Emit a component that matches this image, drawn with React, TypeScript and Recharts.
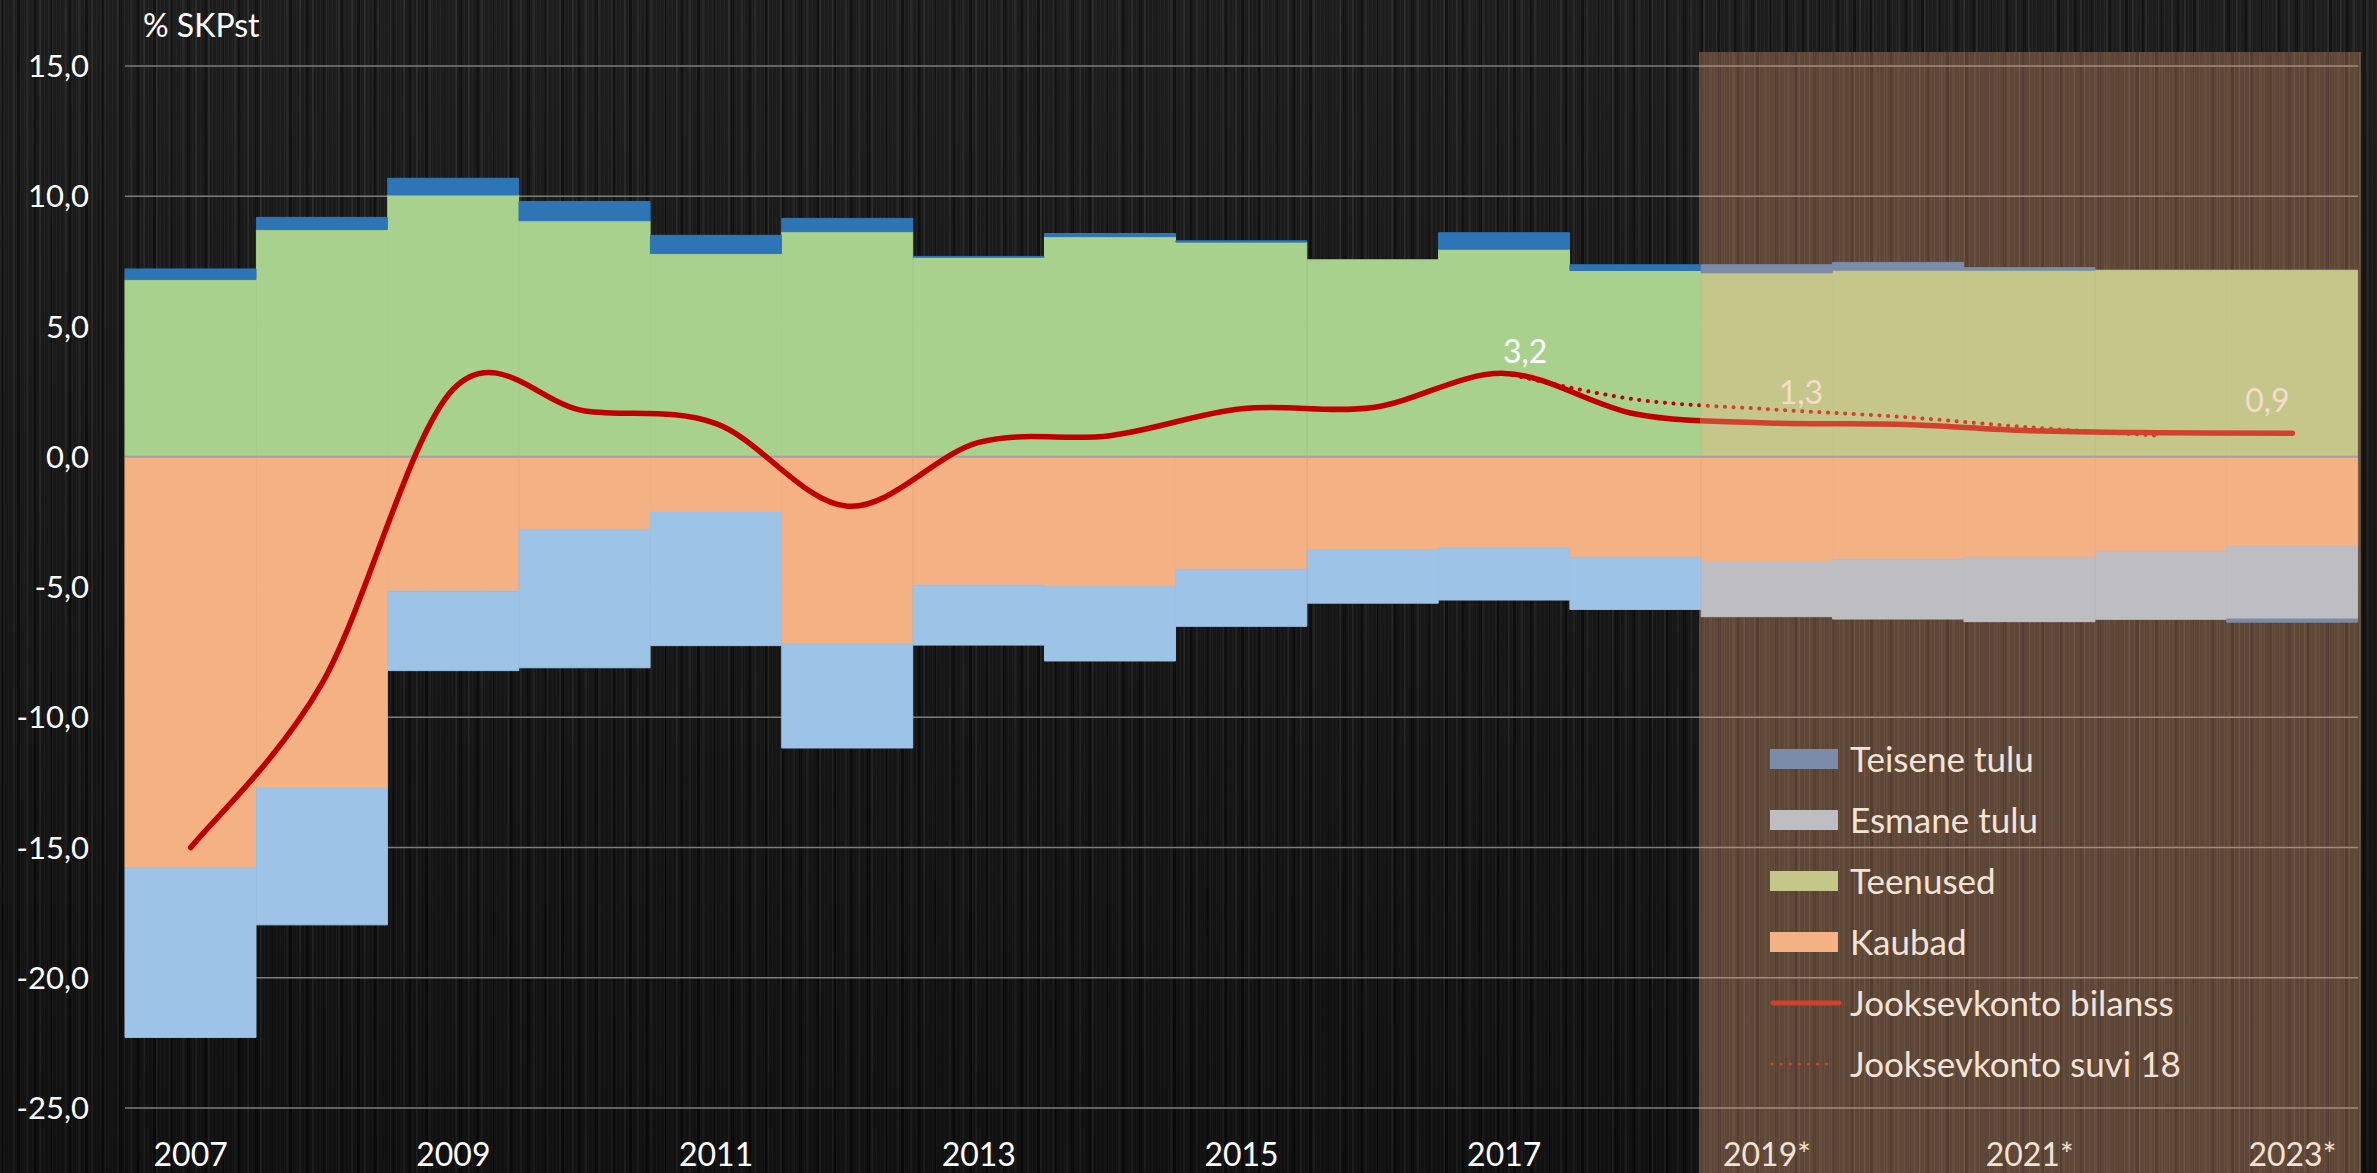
import React from 'react'
import { ComposedChart, Bar, Line, XAxis, YAxis, CartesianGrid, ReferenceLine, Legend, Cell, LabelList } from 'recharts'

const W = 2377
const H = 1173

const years = ['2007', '2008', '2009', '2010', '2011', '2012', '2013', '2014', '2015', '2016', '2017', '2018', '2019*', '2020*', '2021*', '2022*', '2023*']
const teisene = [0.41, 0.47, 0.64, 0.74, 0.70, 0.51, 0.03, 0.12, 0.05, 0, 0.63, 0.22, 0.31, 0.30, 0.10, 0, -0.12]
const esmane = [-6.51, -5.24, -3.05, -5.31, -5.11, -3.98, -2.30, -2.85, -2.19, -2.06, -2.00, -2.00, -2.12, -2.30, -2.47, -2.61, -2.80]
const teenused = [6.80, 8.72, 10.05, 9.06, 7.80, 8.64, 7.66, 8.45, 8.24, 7.56, 7.97, 7.15, 7.06, 7.16, 7.16, 7.16, 7.16]
const kaubad = [-15.78, -12.73, -5.16, -2.79, -2.14, -7.20, -4.93, -4.99, -4.32, -3.56, -3.50, -3.86, -4.02, -3.93, -3.86, -3.63, -3.43]
const bilanss = [-15.0, -8.7, 2.6, 1.76, 1.27, -1.9, 0.55, 0.81, 1.84, 1.89, 3.2, 1.64, 1.3, 1.25, 1.0, 0.92, 0.9]
const suvi18 = [null, null, null, null, null, null, null, null, null, null, 3.2, 2.2, 1.83, 1.54, 1.13, 0.8, null]
const yTicks = [-25, -20, -15, -10, -5, 0, 5, 10, 15]

// which points of the balance line carry a value label, and where it sits
const labelPos: Record<number, { dx: number; dy: number; color: string }> = {
  10: { dx: 21, dy: -10, color: '#ffffff' },
  12: { dx: 34, dy: -19, color: '#f5dccb' },
  16: { dx: -25, dy: -21, color: '#f5dccb' },
}

const hist = { teisene: '#2e75b6', esmane: '#9dc3e6', teenused: '#a9d18e', kaubad: '#f4b183' }
const fore = { teisene: '#7a8ca8', esmane: '#bebdc2', teenused: '#c5c68a', kaubad: '#f4b183' }

const legendItems = [
  { name: 'Teisene tulu', color: fore.teisene, kind: 'box' },
  { name: 'Esmane tulu', color: fore.esmane, kind: 'box' },
  { name: 'Teenused', color: fore.teenused, kind: 'box' },
  { name: 'Kaubad', color: fore.kaubad, kind: 'box' },
  { name: 'Jooksevkonto bilanss', color: '#d2412e', kind: 'line' },
  { name: 'Jooksevkonto suvi 18', color: '#d2412e', kind: 'dots' },
]

const rows = years.map((y, i) => ({
  year: y,
  kaubad: kaubad[i],
  teenused: teenused[i],
  esmane: esmane[i],
  teisene: teisene[i],
  bilanss: bilanss[i],
  suvi18: suvi18[i],
}))

const isFore = (y: string) => y.includes('*')
const fmt = (v: number) => v.toFixed(1).replace('.', ',')

// Excel style smoothed line (bezier through the points)
function excelSmooth(context: any) {
  let pts: number[][] = []
  return {
    areaStart() {},
    areaEnd() {},
    lineStart() { pts = [] },
    point(x: number, y: number) { pts.push([+x, +y]) },
    lineEnd() {
      const n = pts.length
      if (!n) return
      context.moveTo(pts[0][0], pts[0][1])
      for (let i = 0; i < n - 1; i++) {
        const p0 = pts[Math.max(i - 1, 0)]
        const p1 = pts[i]
        const p2 = pts[i + 1]
        const p3 = pts[Math.min(i + 2, n - 1)]
        context.bezierCurveTo(
          p1[0] + (p2[0] - p0[0]) / 6, p1[1] + (p2[1] - p0[1]) / 6,
          p2[0] - (p3[0] - p1[0]) / 6, p2[1] - (p3[1] - p1[1]) / 6,
          p2[0], p2[1]
        )
      }
    },
  }
}

const DARK = [
  'linear-gradient(180deg, rgba(255,255,255,0.025), rgba(0,0,0,0.3))',
  'repeating-linear-gradient(90deg, rgba(255,255,255,0.03) 0px, rgba(255,255,255,0.03) 1px, rgba(0,0,0,0) 1px, rgba(0,0,0,0) 4px)',
  'repeating-linear-gradient(90deg, rgba(255,255,255,0.05) 0px, rgba(255,255,255,0.05) 2px, rgba(0,0,0,0) 2px, rgba(0,0,0,0) 13px)',
  'repeating-linear-gradient(90deg, rgba(0,0,0,0.45) 0px, rgba(0,0,0,0.45) 3px, rgba(0,0,0,0) 3px, rgba(0,0,0,0) 17px)',
  '#181818',
].join(', ')

const BROWN = [
  'repeating-linear-gradient(90deg, rgba(255,230,210,0.05) 0px, rgba(255,230,210,0.05) 1px, rgba(0,0,0,0) 1px, rgba(0,0,0,0) 5px)',
  'repeating-linear-gradient(90deg, rgba(255,230,210,0.04) 0px, rgba(255,230,210,0.04) 2px, rgba(0,0,0,0) 2px, rgba(0,0,0,0) 11px)',
  'repeating-linear-gradient(90deg, rgba(0,0,0,0.12) 0px, rgba(0,0,0,0.12) 3px, rgba(0,0,0,0) 3px, rgba(0,0,0,0) 19px)',
  '#5f4738',
].join(', ')

const YearTick = (p: any) => {
  const v = p.payload.value as string
  return (
    <text x={p.x} y={p.y} dy={58} textAnchor="middle" fill={isFore(v) ? '#f4e2d4' : '#ffffff'} fontSize={32} fontFamily="Lato">
      {v}
    </text>
  )
}

const LegendBox = () => (
  <div style={{ fontFamily: 'Lato', color: '#f3e3d6', fontSize: 35 }}>
    {legendItems.map((it) => (
      <div key={it.name} style={{ height: 61, display: 'flex', alignItems: 'center' }}>
        <svg width={76} height={24} style={{ marginRight: 4 }}>
          {it.kind === 'box' && <rect x={0} y={2} width={68} height={20} fill={it.color} />}
          {it.kind === 'line' && <line x1={3} y1={12} x2={69} y2={12} stroke={it.color} strokeWidth={5} strokeLinecap="round" />}
          {it.kind === 'dots' && <line x1={2} y1={12} x2={64} y2={12} stroke={it.color} strokeWidth={3} strokeLinecap="round" strokeDasharray="0.1 9" />}
        </svg>
        <span style={{ lineHeight: 1 }}>{it.name}</span>
      </div>
    ))}
  </div>
)

const barCells = (key: 'kaubad' | 'teenused' | 'esmane' | 'teisene') =>
  rows.map((r, i) => {
    const c = isFore(r.year) ? fore[key] : hist[key]
    return <Cell key={i} fill={c} stroke={c} strokeWidth={1} />
  })

export default function App() {
  return (
    <div style={{ position: 'absolute', left: 0, top: 0, width: W, height: H, background: DARK, overflow: 'hidden', fontFamily: 'Lato' }}>
      <div style={{ position: 'absolute', left: 1699, top: 52, width: 662, height: H - 52, background: BROWN }} />
      <div style={{ position: 'absolute', left: 143, top: 9, color: '#ffffff', fontSize: 32, lineHeight: 1 }}>% SKPst</div>
      <div style={{ position: 'absolute', left: 0, top: 0 }}>
        <ComposedChart
          width={W}
          height={H}
          data={rows}
          margin={{ top: 66, right: 19, bottom: 0, left: 0 }}
          stackOffset="sign"
          barCategoryGap={0}
          barGap={0}
        >
          <defs>
            <linearGradient id="gridGrad" gradientUnits="userSpaceOnUse" x1={0} y1={0} x2={W} y2={0}>
              <stop offset={0} stopColor="#7c7c7c" />
              <stop offset={1699 / W} stopColor="#7c7c7c" />
              <stop offset={1699 / W} stopColor="#a38b7c" />
              <stop offset={1} stopColor="#a38b7c" />
            </linearGradient>
            <linearGradient id="lineGrad" gradientUnits="userSpaceOnUse" x1={0} y1={0} x2={W} y2={0}>
              <stop offset={0} stopColor="#c00000" />
              <stop offset={1700 / W} stopColor="#c00000" />
              <stop offset={1700 / W} stopColor="#d2412e" />
              <stop offset={1} stopColor="#d2412e" />
            </linearGradient>
          </defs>
          <CartesianGrid vertical={false} stroke="url(#gridGrad)" strokeWidth={1.5} />
          <XAxis
            dataKey="year"
            interval={1}
            height={65}
            tickSize={0}
            tickMargin={0}
            axisLine={false}
            tick={<YearTick />}
          />
          <YAxis
            domain={[-25, 15]}
            ticks={yTicks}
            width={125}
            tickSize={0}
            tickMargin={36}
            axisLine={false}
            tickFormatter={fmt}
            tick={{ fill: '#ffffff', fontSize: 31, fontFamily: 'Lato' }}
          />
          <Bar dataKey="kaubad" name="Kaubad" stackId="s" isAnimationActive={false}>
            {barCells('kaubad')}
          </Bar>
          <Bar dataKey="teenused" name="Teenused" stackId="s" isAnimationActive={false}>
            {barCells('teenused')}
          </Bar>
          <Bar dataKey="esmane" name="Esmane tulu" stackId="s" isAnimationActive={false}>
            {barCells('esmane')}
          </Bar>
          <Bar dataKey="teisene" name="Teisene tulu" stackId="s" isAnimationActive={false}>
            {barCells('teisene')}
          </Bar>
          <ReferenceLine y={0} stroke="#a2a2a2" strokeWidth={2} />
          <Line
            dataKey="suvi18"
            name="Jooksevkonto suvi 18"
            type={excelSmooth as any}
            stroke="url(#lineGrad)"
            strokeWidth={4}
            strokeLinecap="round"
            strokeDasharray="0.1 8.5"
            dot={false}
            activeDot={false}
            connectNulls={false}
            isAnimationActive={false}
          />
          <Line
            dataKey="bilanss"
            name="Jooksevkonto bilanss"
            type={excelSmooth as any}
            stroke="url(#lineGrad)"
            strokeWidth={5.5}
            strokeLinecap="round"
            dot={false}
            activeDot={false}
            isAnimationActive={false}
          >
            <LabelList
              dataKey="bilanss"
              content={(p: any) => {
                const o = labelPos[p.index]
                if (!o) return null
                return (
                  <text x={p.x + o.dx} y={p.y + o.dy} textAnchor="middle" fill={o.color} fontSize={32} fontFamily="Lato">
                    {fmt(p.value)}
                  </text>
                )
              }}
            />
          </Line>
          <Legend
            layout="vertical"
            align="center"
            verticalAlign="middle"
            wrapperStyle={{ left: 1770, top: 728, width: 560 }}
            content={<LegendBox />}
          />
        </ComposedChart>
      </div>
    </div>
  )
}
